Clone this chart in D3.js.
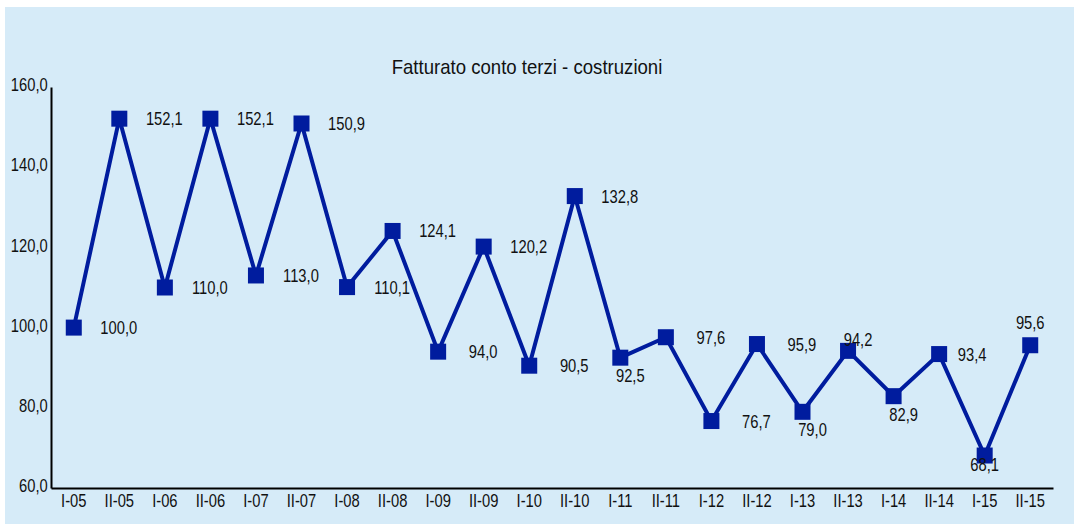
<!DOCTYPE html>
<html>
<head>
<meta charset="utf-8">
<script src="https://cdn.jsdelivr.net/npm/d3@7/dist/d3.min.js"></script>
<style>
  html, body { margin: 0; padding: 0; background: #ffffff; }
  svg { display: block; }
  text { font-family: "Liberation Sans", Arial, sans-serif; fill: #111; }
</style>
</head>
<body>
<svg id="chart" width="1078" height="524"></svg>
<script>
// Semesters (I = first half, II = second half of the year)
const periods = ["I-05","II-05","I-06","II-06","I-07","II-07","I-08","II-08","I-09","II-09",
                 "I-10","II-10","I-11","II-11","I-12","II-12","I-13","II-13","I-14","II-14","I-15","II-15"];
const turnover = [100.0,152.1,110.0,152.1,113.0,150.9,110.1,124.1,94.0,120.2,
                  90.5,132.8,92.5,97.6,76.7,95.9,79.0,94.2,82.9,93.4,68.1,95.6];
const yTicks = [60,80,100,120,140,160];
const title = "Fatturato conto terzi - costruzioni";

// Where each value label sits relative to its marker
const labelPlacement = ["right","right","right","right","right","right","right","right","right","right",
                        "right","right","below","right","right","right","below","above","below","nearRight","under","top"];
const placementOffset = {
  right:     [45, 0],
  nearRight: [33, 0],
  below:     [10, 18],
  under:     [0, 9],
  above:     [10, -11],
  top:       [0, -23]
};

const svg = d3.select("#chart");
const W = 1078, H = 524;
const margin = { left: 51, right: 25, top: 87, bottom: 36 };
const narrow = 0.82; // condensed lettering

const fmt = v => d3.format(".1f")(v).replace(".", ",");

// panel background
svg.append("rect")
  .attr("x", 5).attr("y", 7)
  .attr("width", 1069).attr("height", H - 7)
  .attr("fill", "#d6ebf8");

const x = d3.scaleBand()
  .domain(periods)
  .range([margin.left, W - margin.right]);

const y = d3.scaleLinear()
  .domain([60, 160])
  .range([H - margin.bottom, margin.top]);

// title
svg.append("text")
  .attr("transform", "translate(527,74) scale(0.93,1)")
  .attr("text-anchor", "middle")
  .style("font-size", "20px")
  .text(title);

// y axis
const yAxis = svg.append("g")
  .attr("transform", `translate(${margin.left},0)`)
  .call(d3.axisLeft(y).tickValues(yTicks).tickSize(0).tickPadding(4).tickFormat(fmt));
yAxis.select(".domain").attr("stroke", "#000").attr("stroke-width", 2);
yAxis.selectAll("text")
  .style("font-size", "18px")
  .attr("dy", "0.2em")
  .attr("fill", "#111")
  .attr("transform", `scale(${narrow},1)`);

// x axis
const xAxis = svg.append("g")
  .attr("transform", `translate(0,${H - margin.bottom})`)
  .call(d3.axisBottom(x).tickSize(0).tickPadding(6));
xAxis.select(".domain").attr("stroke", "#000").attr("stroke-width", 2);
xAxis.selectAll("text")
  .style("font-size", "18px")
  .attr("fill", "#111")
  .attr("transform", `scale(${narrow},1)`);

const cx = (d, i) => x(periods[i]) + x.bandwidth() / 2;

// series line
const line = d3.line()
  .x((d, i) => cx(d, i))
  .y(d => y(d));

svg.append("path")
  .datum(turnover)
  .attr("fill", "none")
  .attr("stroke", "#001c9e")
  .attr("stroke-width", 4)
  .attr("stroke-linejoin", "miter")
  .attr("d", line);

// square markers
const ms = 16;
svg.append("g").selectAll("rect")
  .data(turnover)
  .join("rect")
  .attr("x", (d, i) => cx(d, i) - ms / 2)
  .attr("y", d => y(d) - ms / 2)
  .attr("width", ms).attr("height", ms)
  .attr("fill", "#001c9e");

// value labels
svg.append("g").selectAll("text")
  .data(turnover)
  .join("text")
  .attr("transform", (d, i) => {
    const o = placementOffset[labelPlacement[i]];
    return `translate(${cx(d, i) + o[0]},${y(d) + o[1]}) scale(${narrow},1)`;
  })
  .attr("dy", "0.36em")
  .attr("text-anchor", "middle")
  .style("font-size", "18px")
  .text(d => fmt(d));
</script>
</body>
</html>
